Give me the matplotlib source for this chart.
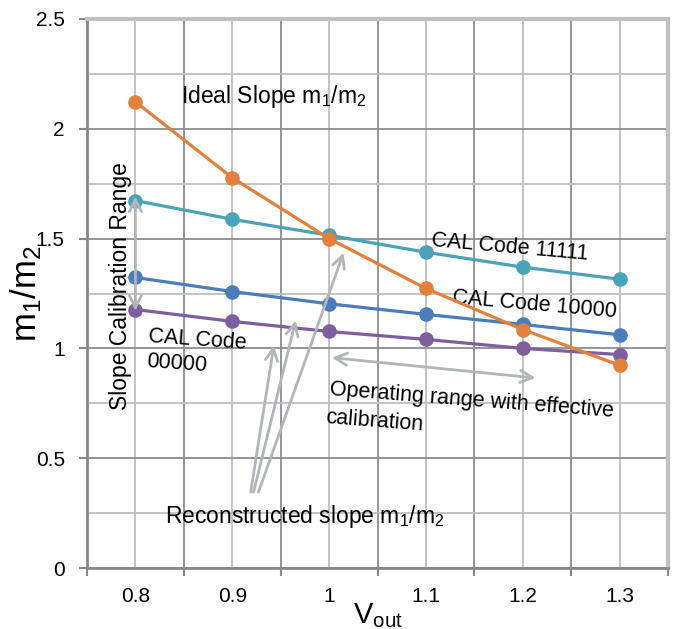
import matplotlib.pyplot as plt
from matplotlib.ticker import MultipleLocator, FixedLocator

plt.rcParams['font.family'] = ['Liberation Sans', 'DejaVu Sans']

# data
vout = [0.8, 0.9, 1.0, 1.1, 1.2, 1.3]
ideal_slope = [2.123, 1.777, 1.50, 1.273, 1.086, 0.923]
cal_11111 = [1.673, 1.588, 1.515, 1.438, 1.370, 1.315]
cal_10000 = [1.323, 1.259, 1.203, 1.155, 1.109, 1.062]
cal_00000 = [1.177, 1.123, 1.077, 1.041, 1.000, 0.972]
tick_labels = ['0.8', '0.9', '1', '1.1', '1.2', '1.3']

fig = plt.figure(figsize=(6.76, 6.29), dpi=100)
ax = fig.add_axes([87 / 676, 1 - 568 / 629, 581 / 676, 549 / 629])

ms = 9.5
lw = 2.3
ax.plot(vout, cal_11111, '-o', color='#4BA3B9', lw=lw, ms=ms, zorder=3)
ax.plot(vout, cal_10000, '-o', color='#4A7DBA', lw=lw, ms=ms, zorder=3)
ax.plot(vout, cal_00000, '-o', color='#7D5FA0', lw=lw, ms=ms, zorder=3)
ax.plot(vout, ideal_slope, '-o', color='#E2803C', lw=lw, ms=ms, zorder=4)

ax.set_xlim(0.75, 1.35)
ax.set_ylim(0, 2.5)

# category style x axis: ticks on the boundaries, labels in the middle
ax.xaxis.set_major_locator(FixedLocator([0.75 + 0.1 * i for i in range(7)]))
ax.xaxis.set_minor_locator(FixedLocator(vout))
ax.set_xticklabels([])
ax.set_xticklabels(tick_labels, minor=True)
ax.tick_params(axis='x', which='minor', length=0, pad=14, labelsize=15)
ax.tick_params(axis='x', which='major', length=6, width=1.5, color='#888888')
ax.yaxis.set_major_locator(MultipleLocator(0.5))
ax.yaxis.set_minor_locator(MultipleLocator(0.25))
ax.tick_params(axis='y', which='major', length=6, width=1.5, color='#888888',
               labelsize=15, pad=10)
ax.tick_params(axis='y', which='minor', length=0)
ax.set_yticks([0, 0.5, 1, 1.5, 2, 2.5])
ax.set_yticklabels(['0', '0.5', '1', '1.5', '2', '2.5'])

ax.grid(True, which='major', color='#8C8C8C', lw=1.3, zorder=0)
ax.grid(True, which='minor', color='#BEBEBE', lw=1.3, zorder=0)
ax.set_axisbelow(True)

for side in ['left', 'bottom']:
    ax.spines[side].set_color('#888888')
    ax.spines[side].set_linewidth(2)
for side in ['top', 'right']:
    ax.spines[side].set_color('#C0C0C0')
    ax.spines[side].set_linewidth(3)

ax.set_ylabel(r'$\mathregular{m_1/m_2}$', fontsize=25, labelpad=-6)
ax.set_xlabel(r'$\mathregular{V_{out}}$', fontsize=21, labelpad=-4)

# text annotations
ax.text(0.847, 2.118, r'Ideal Slope m$\mathregular{_1}$/m$\mathregular{_2}$', fontsize=16.5)
ax.text(0.831, 0.205, r'Reconstructed slope m$\mathregular{_1}$/m$\mathregular{_2}$', fontsize=16.5)
ax.text(0.785, 1.282, 'Slope Calibration Range', fontsize=16.5, rotation=90,
        ha='center', va='center')
ax.text(1.105, 1.468, 'CAL Code 11111', fontsize=15.5, rotation=-5,
        rotation_mode='anchor')
ax.text(1.127, 1.209, 'CAL Code 10000', fontsize=15.5, rotation=-5,
        rotation_mode='anchor')
ax.text(0.813, 1.027, 'CAL Code', fontsize=15.5, rotation=-4, rotation_mode='anchor')
ax.text(0.811, 0.914, '00000', fontsize=15.5, rotation=-4, rotation_mode='anchor')
ax.text(1.0, 0.786, 'Operating range with effective', fontsize=15.5, rotation=-4.4,
        rotation_mode='anchor')
ax.text(0.996, 0.659, 'calibration', fontsize=15.5, rotation=-4.4,
        rotation_mode='anchor')

arrow_kw = dict(color='#B2B6BA', lw=2, mutation_scale=22)
ax.annotate('', xy=(0.8, 1.705), xytext=(0.8, 1.159),
            arrowprops=dict(arrowstyle='<->', **arrow_kw))
ax.annotate('', xy=(1.0, 0.959), xytext=(1.216, 0.864),
            arrowprops=dict(arrowstyle='<->', **arrow_kw))
for tail, head in [((0.919, 0.345), (0.943, 1.014)),
                   ((0.922, 0.345), (0.9655, 1.127)),
                   ((0.927, 0.345), (1.015, 1.436))]:
    ax.annotate('', xy=head, xytext=tail,
                arrowprops=dict(arrowstyle='->', shrinkA=0, shrinkB=0, **arrow_kw))

fig.savefig('out.png', dpi=100)
